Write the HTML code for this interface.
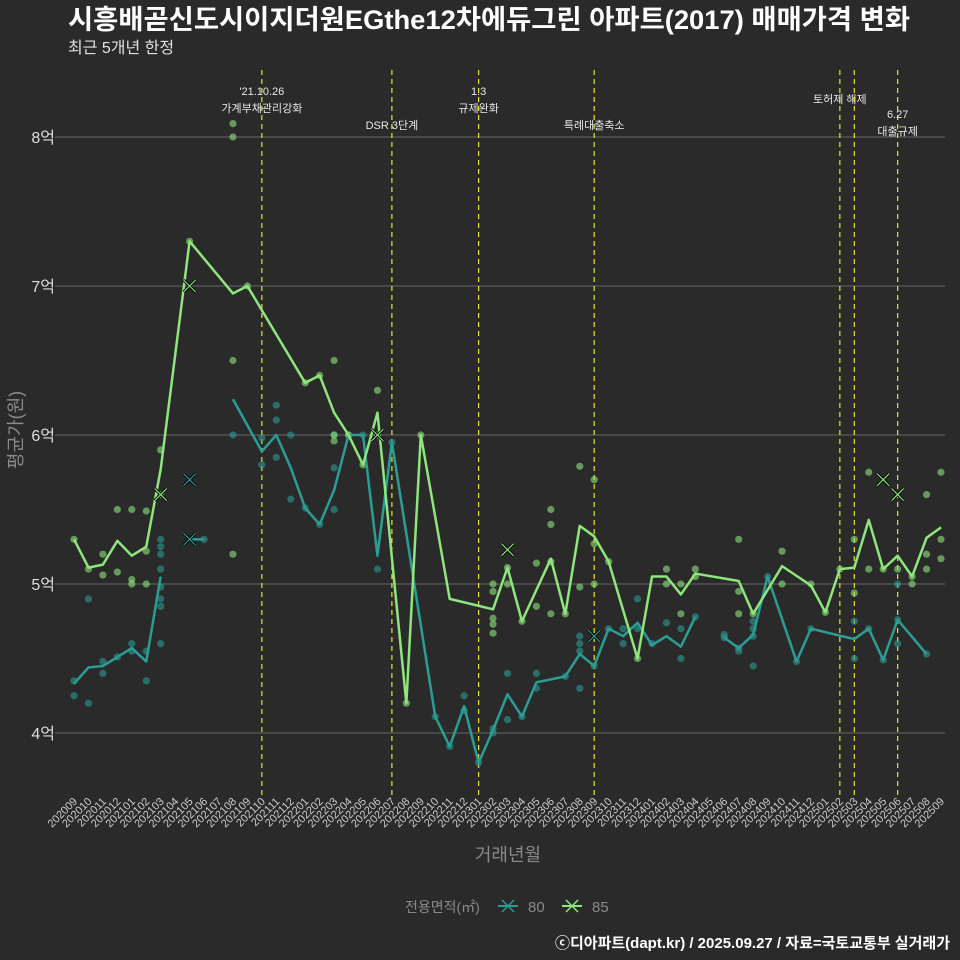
<!DOCTYPE html>
<html><head><meta charset="utf-8"><style>
html,body{margin:0;padding:0;background:#2b2a2b;}
svg{display:block;font-family:"Liberation Sans","Noto Sans CJK KR",sans-serif;}
</style></head><body>
<svg id="chart" width="960" height="960" viewBox="0 0 960 960">
<rect width="960" height="960" fill="#2b2a2b"/>
<text x="68" y="29" fill="#ffffff" font-size="27" font-weight="bold" textLength="842" lengthAdjust="spacingAndGlyphs">시흥배곧신도시이지더원EGthe12차에듀그린 아파트(2017) 매매가격 변화</text>
<text x="68" y="53" fill="#e0e0e0" font-size="16">최근 5개년 한정</text>
<g id="grid"></g><g id="vlines"></g><g id="dots"></g><g id="lines"></g><g id="marks"></g><g id="xlabels"></g>
<text transform="translate(22,430) rotate(-90)" text-anchor="middle" fill="#8a8a8a" font-size="18">평균가(원)</text>
<text x="508" y="861" text-anchor="middle" fill="#8a8a8a" font-size="18">거래년월</text>
<g>
<text x="405" y="912" fill="#8a8a8a" font-size="14">전용면적(㎡)</text>
<g><line x1="498" y1="906" x2="518" y2="906" stroke="#2a9d94" stroke-width="2"/><path d="M502,900 L514,912 M514,900 L502,912" stroke="#2a9d94" stroke-width="1.5"/><text x="528" y="912" fill="#8a8a8a" font-size="15">80</text></g>
<g><line x1="562" y1="906" x2="582" y2="906" stroke="#8ee67c" stroke-width="2"/><path d="M566,900 L578,912 M578,900 L566,912" stroke="#8ee67c" stroke-width="1.5"/><text x="592" y="912" fill="#8a8a8a" font-size="15">85</text></g>
</g>
<text x="950" y="948" text-anchor="end" fill="#ffffff" font-size="15" font-weight="bold">ⓒ디아파트(dapt.kr) / 2025.09.27 / 자료=국토교통부 실거래가</text>
</svg>
<script>
const months=[];for(let y=2020,m=9;y<2025||(y===2025&&m<=9);){months.push(''+y+(m<10?'0':'')+m);m++;if(m>12){m=1;y++;}}
const yTicks=[4,5,6,7,8];
const yTickLabels=['4억','5억','6억','7억','8억'];
const line80=[4.33,4.44,4.45,4.51,4.57,4.48,5.05,null,5.30,5.30,null,6.24,null,5.89,6.0,5.78,5.51,5.40,5.63,6.0,6.0,5.19,5.95,null,null,4.11,3.91,4.18,3.80,4.02,4.26,4.11,4.34,null,4.38,4.53,4.45,4.70,4.65,4.74,4.59,4.65,4.58,4.78,null,4.64,4.57,4.66,5.05,null,4.48,4.70,null,null,4.63,4.70,4.49,4.76,null,4.53,null];
const breaks80=[6,9,43];
const line85=[5.30,5.11,5.13,5.29,5.19,5.25,5.77,null,7.30,null,null,6.95,7.00,null,null,null,6.35,6.40,6.15,6.0,5.80,6.15,null,4.20,6.0,null,4.90,null,null,4.83,5.11,4.75,null,5.17,4.80,5.39,5.32,5.15,null,4.50,5.05,5.05,4.93,5.07,null,null,5.02,4.80,null,5.12,null,4.99,4.81,5.10,5.11,5.43,5.10,5.19,5.05,5.31,5.38];
const breaks85=[];
const dots80=[[0,4.35],[0,4.25],[1,4.90],[1,4.20],[2,4.48],[2,4.40],[3,4.51],[4,4.60],[4,4.55],[5,4.55],[5,4.35],[6,5.30],[6,5.25],[6,5.20],[6,5.10],[6,4.98],[6,4.90],[6,4.85],[6,4.60],[9,5.30],[11,6.0],[13,5.98],[13,5.80],[14,6.2],[14,6.1],[14,5.85],[15,6.0],[15,5.57],[16,5.51],[17,5.40],[18,5.78],[18,5.50],[18,6.0],[19,6.0],[20,6.0],[21,5.10],[22,5.95],[25,4.11],[26,3.91],[27,4.25],[27,4.15],[28,3.80],[29,4.0],[29,4.03],[30,4.40],[30,4.09],[31,4.11],[32,4.40],[32,4.30],[34,4.38],[35,4.65],[35,4.60],[35,4.55],[35,4.30],[36,4.45],[37,4.70],[38,4.70],[38,4.60],[39,4.90],[39,4.70],[40,4.60],[41,4.74],[42,4.70],[42,4.50],[43,4.78],[45,4.64],[45,4.66],[46,4.57],[46,4.55],[47,4.75],[47,4.70],[47,4.65],[47,4.45],[48,5.05],[50,4.48],[51,4.70],[54,4.75],[54,4.50],[55,4.70],[56,4.49],[57,5.0],[57,4.76],[57,4.60],[59,4.53]];
const dots85=[[0,5.30],[1,5.10],[2,5.20],[2,5.06],[3,5.50],[3,5.08],[4,5.50],[4,5.03],[4,5.0],[5,5.49],[5,5.22],[5,5.0],[6,5.90],[6,5.60],[8,7.30],[11,6.50],[11,5.20],[11,8.0],[11,8.09],[12,7.0],[16,6.35],[17,6.40],[18,6.50],[18,6.0],[18,5.96],[19,6.0],[20,5.80],[21,6.30],[21,6.0],[23,4.20],[24,6.0],[29,5.0],[29,4.95],[29,4.77],[29,4.73],[29,4.67],[30,5.11],[30,5.0],[31,4.75],[32,5.14],[32,4.85],[33,5.50],[33,5.40],[33,5.15],[33,4.80],[34,4.80],[35,5.79],[35,4.98],[36,5.70],[36,5.27],[36,5.0],[37,5.15],[39,4.50],[41,5.10],[41,5.0],[42,5.0],[42,4.80],[43,5.10],[43,5.05],[46,5.30],[46,4.95],[46,4.80],[47,4.80],[49,5.22],[49,5.0],[51,5.0],[52,4.81],[53,5.10],[54,5.30],[54,4.94],[55,5.75],[55,5.10],[56,5.10],[57,5.10],[58,5.0],[58,5.05],[59,5.60],[59,5.20],[59,5.10],[60,5.75],[60,5.30],[60,5.17]];
const xMarks80=[[8,5.70],[8,5.30],[36,4.65]];
const xMarks85=[[6,5.60],[8,7.0],[21,6.0],[30,5.23],[56,5.70],[57,5.60]];
const events=[[13,["'21.10.26","가계부채관리강화"],91],[22,["DSR 3단계"],125],[28,["1.3","규제완화"],91],[36,["특례대출축소"],125],[53,["토허제 해제"],99],[54,[],0],[57,["6.27","대출규제"],114]];
const C80='#2a9d94',C85='#8ee67c';
const xS=i=>74+i*14.45, yS=v=>584-(v-5)*149;
const NS='http://www.w3.org/2000/svg';
function mk(p,t,a){const e=document.createElementNS(NS,t);for(const k in a)e.setAttribute(k,a[k]);p.appendChild(e);return e;}
const G=id=>document.getElementById(id);
yTicks.forEach((v,i)=>{
 const l=mk(G('grid'),'line',{x1:55,x2:945,y1:yS(v),y2:yS(v),stroke:'#666',"stroke-width":1});
 
 
 const t=mk(G('grid'),'text',{x:55,y:yS(v)+6,"text-anchor":"end",fill:'#dddddd',"font-size":16});
 t.textContent=yTickLabels[i];
 
 
});
events.forEach(ev=>{
 const x=xS(ev[0]);
 const l=mk(G('vlines'),'line',{x1:x,x2:x,y1:70,y2:795,stroke:'#e6e62a',"stroke-width":1.2,"stroke-dasharray":"5,4"});
 
 
 ev[1].forEach((s,j)=>{
  const t=mk(G('vlines'),'text',{x:x,y:ev[2]+j*17+4,"text-anchor":"middle",fill:'#e8e8e8',"font-size":11});
  t.textContent=s;
  
  
 });
});
[[dots80,C80],[dots85,C85]].forEach(([d,c])=>d.forEach(p=>{
 const e=mk(G('dots'),'circle',{cx:xS(p[0]),cy:yS(p[1]),r:3.6,fill:c,"fill-opacity":0.6});
 
 
}));
[[line80,breaks80,C80,'80'],[line85,breaks85,C85,'85']].forEach(([arr,br,c,n])=>{
 let seg=[];const segs=[];
 arr.forEach((v,i)=>{
  if(v!=null){seg.push([xS(i),yS(v)]);}
  if(br.includes(i)){if(seg.length)segs.push(seg);seg=[];}
 });
 if(seg.length)segs.push(seg);
 segs.forEach(s=>{
  const p=mk(G('lines'),'polyline',{points:s.map(q=>q.join(',')).join(' '),fill:'none',stroke:c,"stroke-width":2.5,"stroke-linejoin":"round"});
  
  
 });
});
[[xMarks80,C80],[xMarks85,C85]].forEach(([d,c])=>d.forEach(p=>{
 const x=xS(p[0]),y=yS(p[1]),r=6;
 const g=mk(G('marks'),'g',{});
 
 
 mk(g,'path',{d:`M${x-r},${y-r}L${x+r},${y+r}M${x+r},${y-r}L${x-r},${y+r}`,stroke:'#000',"stroke-width":3});
 mk(g,'path',{d:`M${x-r},${y-r}L${x+r},${y+r}M${x+r},${y-r}L${x-r},${y+r}`,stroke:c,"stroke-width":1.2});
}));
months.forEach((m,i)=>{
 const x=xS(i);
 const t=mk(G('xlabels'),'text',{transform:`translate(${x+4},802) rotate(-45)`,"text-anchor":"end",fill:'#cccccc',"font-size":11});
 t.textContent=m;
 
 
});
</script>
</body></html>
